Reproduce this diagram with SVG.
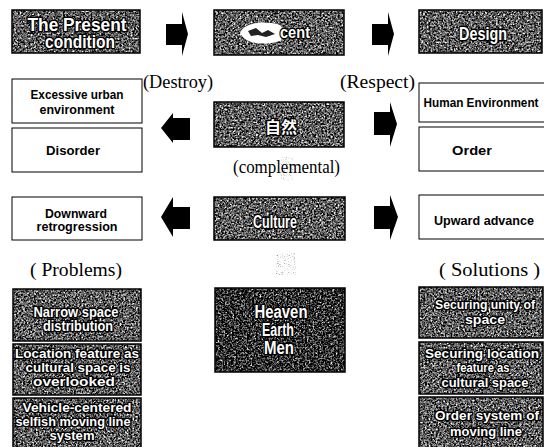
<svg xmlns="http://www.w3.org/2000/svg" width="544" height="447" viewBox="0 0 544 447">
<defs>
<filter id="tex" x="0" y="0" width="100%" height="100%" color-interpolation-filters="sRGB">
<feTurbulence type="fractalNoise" baseFrequency="0.55" numOctaves="3" seed="7" result="n"/>
<feColorMatrix in="n" type="matrix" values="0.33 0.33 0.33 0 0  0.33 0.33 0.33 0 0  0.33 0.33 0.33 0 0  0 0 0 0 1" result="g"/>
<feComponentTransfer in="g" result="c">
<feFuncR type="linear" slope="3.6" intercept="-1.42"/>
<feFuncG type="linear" slope="3.6" intercept="-1.42"/>
<feFuncB type="linear" slope="3.6" intercept="-1.42"/>
</feComponentTransfer>
<feComposite in="c" in2="SourceGraphic" operator="in"/>
</filter>
<filter id="texd" x="0" y="0" width="100%" height="100%" color-interpolation-filters="sRGB">
<feTurbulence type="fractalNoise" baseFrequency="0.55" numOctaves="3" seed="11" result="n"/>
<feColorMatrix in="n" type="matrix" values="0.33 0.33 0.33 0 0  0.33 0.33 0.33 0 0  0.33 0.33 0.33 0 0  0 0 0 0 1" result="g"/>
<feComponentTransfer in="g" result="c">
<feFuncR type="linear" slope="3.6" intercept="-1.6"/>
<feFuncG type="linear" slope="3.6" intercept="-1.6"/>
<feFuncB type="linear" slope="3.6" intercept="-1.6"/>
</feComponentTransfer>
<feComposite in="c" in2="SourceGraphic" operator="in"/>
</filter>
<filter id="texl" x="0" y="0" width="100%" height="100%" color-interpolation-filters="sRGB">
<feTurbulence type="fractalNoise" baseFrequency="0.9" numOctaves="2" seed="3" result="n"/>
<feColorMatrix in="n" type="matrix" values="0.33 0.33 0.33 0 0  0.33 0.33 0.33 0 0  0.33 0.33 0.33 0 0  0 0 0 0 1" result="g"/>
<feComponentTransfer in="g" result="c">
<feFuncR type="linear" slope="4" intercept="-0.9"/>
<feFuncG type="linear" slope="4" intercept="-0.9"/>
<feFuncB type="linear" slope="4" intercept="-0.9"/>
</feComponentTransfer>
<feComposite in="c" in2="SourceGraphic" operator="in"/>
</filter>
</defs>
<style>
.bg{fill:#fff}
.dk{fill:#666;filter:url(#tex)}
.dkd{fill:#444;filter:url(#texd)}
.frame{fill:none;stroke:#000;stroke-width:1.5}
.wb{fill:#fff;stroke:#000;stroke-width:1}
.wt{font-family:"Liberation Sans","Arial",sans-serif;font-weight:bold;font-size:13px;fill:#000;text-anchor:middle}
.dt{font-family:"Liberation Sans",Arial,sans-serif;font-weight:bold;fill:#fff;stroke:#000;stroke-width:2.8;paint-order:stroke;stroke-linejoin:round;text-anchor:middle}
.cjk{font-family:"Noto Sans CJK JP","Noto Sans CJK SC",sans-serif;font-weight:bold;fill:#fff;stroke:#000;stroke-width:2.5;paint-order:stroke;text-anchor:middle}
.st{font-family:"Liberation Serif","Times New Roman",serif;font-size:18px;fill:#000}
.arr{fill:#000}
.smudge{fill:#bbb;filter:url(#texl);opacity:0.5}
</style>
<rect class="bg" x="0" y="0" width="544" height="447"/>

<g id="connectors">
<path class="arr" d="M166,24 H182 V12 L188,34 L182,56 V45 H166 Z"/>
<path class="arr" d="M372,24 H388 V12 L394,34 L388,56 V45 H372 Z"/>
<path class="arr" d="M190,118 H173 V113 L161,128 L173,143 V140 H190 Z"/>
<path class="arr" d="M374,112 H390 V102 L397,124 L390,147 V135 H374 Z"/>
<path class="arr" d="M190,207 H173 V197 L161,217 L173,237 V229 H190 Z"/>
<path class="arr" d="M374,206 H390 V195 L398,217 L390,240 V229 H374 Z"/>
</g>

<g id="present-condition">
<rect class="dk" x="12" y="10" width="128" height="43"/>
<rect class="frame" x="12" y="10" width="128" height="43"/>
<text class="dt" x="77" y="31" font-size="18" textLength="99" lengthAdjust="spacingAndGlyphs">The Present</text>
<text class="dt" x="80" y="48" font-size="18" textLength="70" lengthAdjust="spacingAndGlyphs">condition</text>
</g>

<g id="accent">
<rect class="dk" x="214" y="10" width="130" height="45"/>
<rect class="frame" x="214" y="10" width="130" height="45"/>
<path d="M240,33 C243,23 263,20 280,25 C285,30 284,37 280,41 C264,46 245,44 240,33 Z" fill="#fff"/>
<path d="M248,31 L256,28 L262,33 L268,30 L275,34 L266,37 L258,35 L251,36 Z" fill="#222"/>
<text class="dt" x="295" y="38" font-size="17" textLength="30" lengthAdjust="spacingAndGlyphs">cent</text>
</g>

<g id="design">
<rect class="dk" x="419" y="10" width="123" height="43"/>
<rect class="frame" x="419" y="10" width="123" height="43"/>
<text class="dt" x="483" y="40" font-size="19" textLength="48" lengthAdjust="spacingAndGlyphs">Design</text>
</g>

<text class="st" x="143" y="88" textLength="70" lengthAdjust="spacingAndGlyphs">(Destroy)</text>
<text class="st" x="340" y="88" textLength="75" lengthAdjust="spacingAndGlyphs">(Respect)</text>

<g id="excessive">
<rect class="wb" x="12" y="79" width="130" height="44"/>
<text class="wt" x="77" y="99" textLength="93" lengthAdjust="spacingAndGlyphs">Excessive urban</text>
<text class="wt" x="77" y="114" textLength="75" lengthAdjust="spacingAndGlyphs">environment</text>
</g>
<g id="disorder">
<rect class="wb" x="12" y="128" width="130" height="44"/>
<text class="wt" x="73" y="155" textLength="54" lengthAdjust="spacingAndGlyphs">Disorder</text>
</g>

<g id="nature">
<rect class="dk" x="214" y="102" width="130" height="45"/>
<rect class="frame" x="214" y="102" width="130" height="45"/>
<text class="cjk" x="281" y="133" font-size="16" textLength="32" lengthAdjust="spacingAndGlyphs">自然</text>
</g>

<g id="human-environment">
<rect class="wb" x="419" y="83" width="130" height="39"/>
<text class="wt" x="481" y="107" textLength="115" lengthAdjust="spacingAndGlyphs">Human Environment</text>
</g>
<g id="order">
<rect class="wb" x="419" y="127" width="130" height="44"/>
<text class="wt" x="472" y="155" textLength="40" lengthAdjust="spacingAndGlyphs">Order</text>
</g>

<rect class="smudge" x="280" y="157" width="13" height="24"/>
<text class="st" x="233" y="173" textLength="107" lengthAdjust="spacingAndGlyphs">(complemental)</text>

<g id="downward">
<rect class="wb" x="12" y="197" width="130" height="43"/>
<text class="wt" x="76" y="218" textLength="62" lengthAdjust="spacingAndGlyphs">Downward</text>
<text class="wt" x="77" y="231" textLength="81" lengthAdjust="spacingAndGlyphs">retrogression</text>
</g>

<g id="culture">
<rect class="dk" x="214" y="197" width="131" height="43"/>
<rect class="frame" x="214" y="197" width="131" height="43"/>
<text class="dt" x="275" y="228" font-size="18" textLength="44" lengthAdjust="spacingAndGlyphs">Culture</text>
</g>

<g id="upward">
<rect class="wb" x="419" y="195" width="130" height="44"/>
<text class="wt" x="484" y="225" textLength="100" lengthAdjust="spacingAndGlyphs">Upward advance</text>
</g>

<text class="st" x="30" y="276" textLength="92" lengthAdjust="spacingAndGlyphs">( Problems)</text>
<text class="st" x="439" y="276" textLength="101" lengthAdjust="spacingAndGlyphs">( Solutions )</text>

<rect class="smudge" x="276" y="253" width="20" height="22"/>

<g id="heaven-earth-men">
<rect class="dkd" x="215" y="288" width="130" height="84"/>
<rect class="frame" x="215" y="288" width="130" height="84"/>
<text class="dt" x="281" y="318" font-size="18" textLength="53" lengthAdjust="spacingAndGlyphs">Heaven</text>
<text class="dt" x="278" y="336" font-size="18" textLength="32" lengthAdjust="spacingAndGlyphs">Earth</text>
<text class="dt" x="279" y="354" font-size="18" textLength="30" lengthAdjust="spacingAndGlyphs">Men</text>
</g>

<g id="problem-1">
<rect class="dk" x="13" y="289" width="128" height="52"/>
<rect class="frame" x="13" y="289" width="128" height="52"/>
<text class="dt" x="76" y="317" font-size="14" textLength="85" lengthAdjust="spacingAndGlyphs">Narrow space</text>
<text class="dt" x="78" y="331" font-size="14" textLength="70" lengthAdjust="spacingAndGlyphs">distribution</text>
</g>
<g id="problem-2">
<rect class="dk" x="13" y="344" width="128" height="51"/>
<rect class="frame" x="13" y="344" width="128" height="51"/>
<text class="dt" x="77" y="358" font-size="13.5" textLength="124" lengthAdjust="spacingAndGlyphs">Location feature as</text>
<text class="dt" x="78" y="372" font-size="13.5" textLength="105" lengthAdjust="spacingAndGlyphs">cultural space is</text>
<text class="dt" x="74" y="386" font-size="13.5" textLength="82" lengthAdjust="spacingAndGlyphs">overlooked</text>
</g>
<g id="problem-3">
<rect class="dk" x="13" y="398" width="128" height="52"/>
<rect class="frame" x="13" y="398" width="128" height="52"/>
<text class="dt" x="77" y="412" font-size="13.5" textLength="109" lengthAdjust="spacingAndGlyphs">Vehicle-centered</text>
<text class="dt" x="73" y="426" font-size="13.5" textLength="115" lengthAdjust="spacingAndGlyphs">selfish moving line</text>
<text class="dt" x="72" y="440" font-size="13.5" textLength="45" lengthAdjust="spacingAndGlyphs">system</text>
</g>

<g id="solution-1">
<rect class="dk" x="419" y="287" width="124" height="51"/>
<rect class="frame" x="419" y="287" width="124" height="51"/>
<text class="dt" x="485" y="309" font-size="13.5" textLength="100" lengthAdjust="spacingAndGlyphs">Securing unity of</text>
<text class="dt" x="485" y="324" font-size="13.5" textLength="40" lengthAdjust="spacingAndGlyphs">space</text>
</g>
<g id="solution-2">
<rect class="dk" x="419" y="342" width="124" height="52"/>
<rect class="frame" x="419" y="342" width="124" height="52"/>
<text class="dt" x="482" y="358" font-size="13.5" textLength="114" lengthAdjust="spacingAndGlyphs">Securing location</text>
<text class="dt" x="483" y="372" font-size="13.5" textLength="53" lengthAdjust="spacingAndGlyphs">feature as</text>
<text class="dt" x="485" y="387" font-size="13.5" textLength="87" lengthAdjust="spacingAndGlyphs">cultural space</text>
</g>
<g id="solution-3">
<rect class="dk" x="419" y="397" width="124" height="53"/>
<rect class="frame" x="419" y="397" width="124" height="53"/>
<text class="dt" x="487" y="420" font-size="13.5" textLength="104" lengthAdjust="spacingAndGlyphs">Order system of</text>
<text class="dt" x="486" y="436" font-size="13.5" textLength="72" lengthAdjust="spacingAndGlyphs">moving line</text>
</g>
</svg>
